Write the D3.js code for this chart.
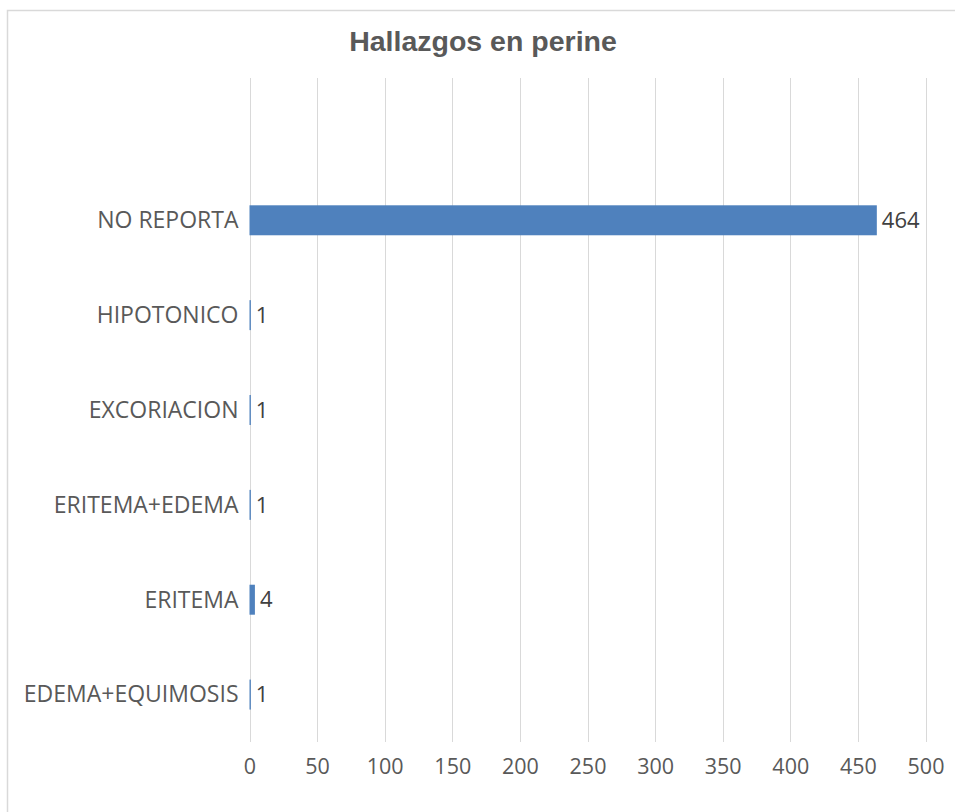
<!DOCTYPE html>
<html>
<head>
<meta charset="utf-8">
<script src="https://cdn.jsdelivr.net/npm/d3@7"></script>
<style>
  html, body { margin: 0; padding: 0; background: #fff; }
  svg { display: block; }
</style>
</head>
<body>
<svg id="chart" width="955" height="812"></svg>
<script>
const title = "Hallazgos en perine";
const categories = ["NO REPORTA", "HIPOTONICO", "EXCORIACION", "ERITEMA+EDEMA", "ERITEMA", "EDEMA+EQUIMOSIS"];
const values = [464, 1, 1, 1, 4, 1];
const xTicks = [0, 50, 100, 150, 200, 250, 300, 350, 400, 450, 500];

(function () {
const svg = d3.select("#chart");
const plotLeft = 249.5, plotRight = 925.5, plotTop = 78, plotBottom = 742;

svg.append("rect")
  .attr("x", 7.5).attr("y", 10.5)
  .attr("width", 1000).attr("height", 1000)
  .attr("fill", "#fff").attr("stroke", "#d9d9d9").attr("stroke-width", 1.5);

const x = d3.scaleLinear().domain([0, 500]).range([plotLeft, plotRight]);
const y = d3.scaleBand()
  .domain([" "].concat(categories))
  .range([plotTop, plotBottom])
  .paddingInner(0.684)
  .paddingOuter(0.342);

// gridlines
svg.append("g").selectAll("line").data(xTicks).join("line")
  .attr("x1", d => Math.round(x(d)) + 0.5).attr("x2", d => Math.round(x(d)) + 0.5)
  .attr("y1", plotTop).attr("y2", plotBottom)
  .attr("stroke", "#d9d9d9").attr("stroke-width", 1);

// x axis labels
const xAxis = d3.axisBottom(x).tickValues(xTicks).tickSize(0).tickPadding(0);
const gx = svg.append("g").attr("transform", `translate(0, ${plotBottom})`).call(xAxis);
gx.select(".domain").remove();
gx.selectAll("text")
  .attr("dy", null).attr("y", 32)
  .attr("fill", "#595959")
  .style("font-family", "'Open Sans', sans-serif")
  .style("font-size", "21.5px");

// y axis labels
const yAxis = d3.axisLeft(y).tickSize(0).tickPadding(11);
const gy = svg.append("g").attr("transform", `translate(${plotLeft}, 0)`).call(yAxis);
gy.select(".domain").remove();
gy.selectAll("text")
  .attr("fill", "#595959")
  .attr("dy", "0.34em")
  .style("font-family", "'Open Sans', sans-serif")
  .style("font-size", "23px");

// bars
svg.append("g").selectAll("rect").data(categories).join("rect")
  .attr("x", x(0))
  .attr("y", d => y(d))
  .attr("width", (d, i) => x(values[i]) - x(0))
  .attr("height", y.bandwidth())
  .attr("fill", "#4f81bd");

// data labels
svg.append("g").selectAll("text").data(categories).join("text")
  .attr("x", (d, i) => x(values[i]) + 5)
  .attr("y", d => y(d) + y.bandwidth() / 2)
  .attr("dy", "0.35em")
  .attr("fill", "#404040")
  .style("font-family", "'Open Sans', sans-serif")
  .style("font-size", "22px")
  .text((d, i) => values[i]);

// title
svg.append("text")
  .attr("x", 483).attr("y", 51)
  .attr("text-anchor", "middle")
  .attr("fill", "#595959")
  .style("font-family", "'Liberation Sans', Arial, sans-serif")
  .style("font-weight", "bold")
  .style("font-size", "28.5px")
  .text(title);
})();
</script>
</body>
</html>
